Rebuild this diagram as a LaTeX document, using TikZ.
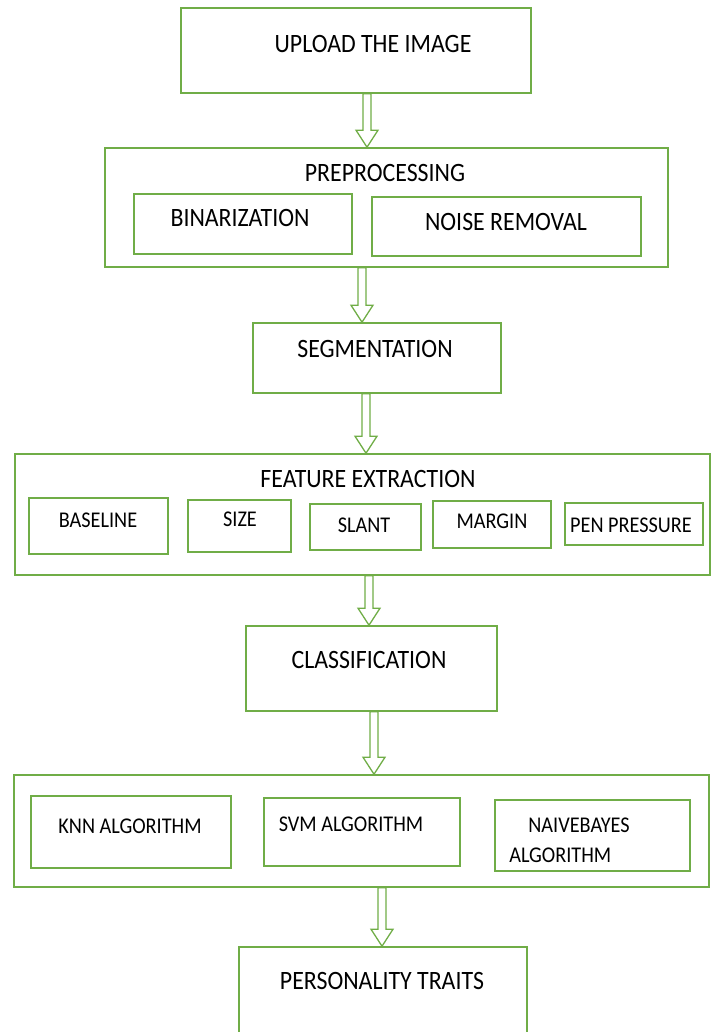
\documentclass[tikz,border=0pt]{standalone}
\usepackage{fontspec}
\setmainfont{Carlito}[FakeStretch=0.9]
\usetikzlibrary{calc,positioning}
\definecolor{boxgreen}{HTML}{70AD47}

\begin{document}
\begin{tikzpicture}[x=1pt, y=-1pt,
            box/.style={draw=boxgreen, line width=1.6pt, rectangle, inner sep=0pt},
            bigtext/.style={font=\fontsize{26.5}{30}\selectfont, inner sep=0pt},
            smalltext/.style={font=\fontsize{22.5}{30}\selectfont, inner sep=0pt},
            hollow/.style={draw=boxgreen, line width=1.3pt, line join=miter,
              to path={let \p1=(\tikztostart), \p2=(\tikztotarget) in
                (\x1-4pt,\y1) -- (\x1-4pt,\y2+17pt) -- (\x1-11pt,\y2+17pt) -- (\x1,\y2)
                -- (\x1+11pt,\y2+17pt) -- (\x1+4pt,\y2+17pt) -- (\x1+4pt,\y1) -- cycle}}]
        \useasboundingbox (0,0) rectangle (711,1032);

        \node[box, minimum width=350, minimum height=85] (upload) at (356,50.5) {};
        \node[bigtext] (uploadtxt) at (373,44) {UPLOAD THE IMAGE};

        \node[box, minimum width=563, minimum height=119] (pre) at (386.5,207.5) {};
        \node[bigtext] (pretxt) at (385,173) {PREPROCESSING};
        \node[box, minimum width=218, minimum height=60] (bin) at (243,224) {};
        \node[bigtext] (bintxt) at (240,218) {BINARIZATION};
        \node[box, minimum width=269, minimum height=59] (noise) at (506.5,226.5) {};
        \node[bigtext] (noisetxt) at (506,222) {NOISE REMOVAL};

        \node[box, minimum width=248, minimum height=70] (seg) at (377,358) {};
        \node[bigtext] (segtxt) at (375,349) {SEGMENTATION};

        \node[box, minimum width=695, minimum height=121] (feat) at (362.5,514.5) {};
        \node[bigtext] (feattxt) at (368,479) {FEATURE EXTRACTION};
        \node[box, minimum width=139, minimum height=56] (base) at (98.5,526) {};
        \node[smalltext] (basetxt) at (98,520) {BASELINE};
        \node[box, minimum width=103, minimum height=52] (size) at (239.5,526) {};
        \node[smalltext] (sizetxt) at (240,519) {SIZE};
        \node[box, minimum width=111, minimum height=46] (slant) at (365.5,527) {};
        \node[smalltext] (slanttxt) at (364,525) {SLANT};
        \node[box, minimum width=118, minimum height=47] (margin) at (492,524.5) {};
        \node[smalltext] (margintxt) at (492,521) {MARGIN};
        \node[box, minimum width=138, minimum height=42] (pen) at (634,524) {};
        \node[smalltext] (pentxt) at (631,525) {PEN PRESSURE};

        \node[box, minimum width=251, minimum height=85] (class) at (371.5,668.5) {};
        \node[bigtext] (classtxt) at (369,660) {CLASSIFICATION};

        \node[box, minimum width=695, minimum height=112] (alg) at (361.5,831) {};
        \node[box, minimum width=200, minimum height=72] (knn) at (131,832) {};
        \node[smalltext] (knntxt) at (130,826) {KNN ALGORITHM};
        \node[box, minimum width=196, minimum height=68] (svm) at (362,832) {};
        \node[smalltext] (svmtxt) at (351,824) {SVM ALGORITHM};
        \node[box, minimum width=195, minimum height=71] (naive) at (592.5,835.5) {};
        \node[smalltext, align=left] (naivetxt) at (569.5,840) {\hspace{19pt}NAIVEBAYES\\ALGORITHM};

        \node[box, minimum width=288, minimum height=93] (pers) at (383,993.5) {};
        \node[bigtext] (perstxt) at (382,981) {PERSONALITY TRAITS};

        \draw[hollow] ([xshift=11]upload.south) to ([xshift=11]upload.south |- pre.north);
        \draw[hollow] ([xshift=-24.5]pre.south) to ([xshift=-24.5]pre.south |- seg.north);
        \draw[hollow] ([xshift=-11]seg.south) to ([xshift=-11]seg.south |- feat.north);
        \draw[hollow] ([xshift=6.5]feat.south) to ([xshift=6.5]feat.south |- class.north);
        \draw[hollow] ([xshift=2.5]class.south) to ([xshift=2.5]class.south |- alg.north);
        \draw[hollow] ([xshift=20.5]alg.south) to ([xshift=20.5]alg.south |- pers.north);
\end{tikzpicture}
\end{document}
